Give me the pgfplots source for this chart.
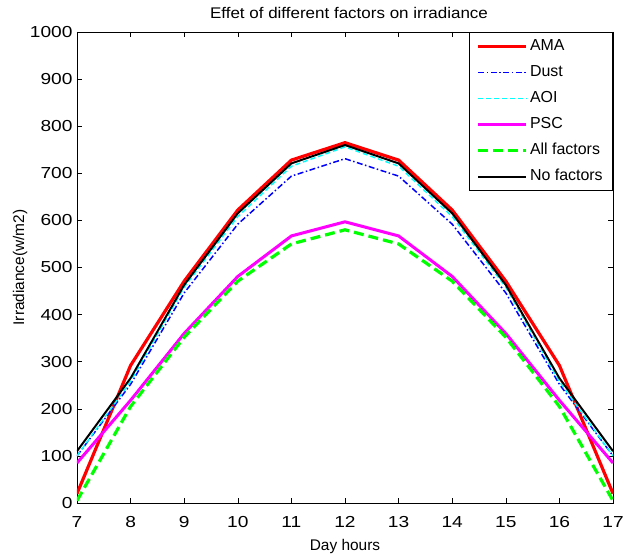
\documentclass[border=0pt]{standalone}
\usepackage{pgfplots}
\pgfplotsset{compat=1.18}
\usepackage{fontspec}
\setmainfont{Liberation Sans}
\newfontfamily\tickfont[FakeStretch=1.2]{Liberation Sans}
\newfontfamily\titlefont[FakeStretch=1.1]{Liberation Sans}
\definecolor{cR}{RGB}{255,0,0}
\definecolor{cB}{RGB}{0,0,255}
\definecolor{cC}{RGB}{0,255,255}
\definecolor{cM}{RGB}{255,0,255}
\definecolor{cG}{RGB}{0,255,0}
\begin{document}
\begin{tikzpicture}
\begin{axis}[
  scale only axis,
  width=536bp, height=471bp,
  xmin=7, xmax=17, ymin=0, ymax=1000,
  xtick={7,8,...,17}, ytick={0,100,...,1000},
  tick align=inside, tick pos=both,
  major tick length=5bp,
  /pgf/number format/assume math mode=true,
  /pgf/number format/1000 sep={},
  ticklabel style={font=\tickfont\fontsize{16}{18}\selectfont},
  xticklabel style={anchor=base, yshift=-24bp},
  yticklabel style={xshift=-1bp},
  every axis title/.style={font=\titlefont\fontsize{15.5}{17}\selectfont, at={(axis description cs:0.5,1.0297)}, anchor=base, xshift=4bp},
  title={Effet of different factors on irradiance},
  xlabel={Day hours}, ylabel={Irradiance(w/m2)},
  xlabel style={font=\fontsize{15.5}{17}\selectfont, at={(axis description cs:0.5,-0.1)}, anchor=base},
  ylabel style={font=\fontsize{15.5}{17}\selectfont, at={(axis description cs:-0.106,0.5)}, anchor=center},
  axis line style={line width=0.6pt},
  every tick/.style={black, line width=0.6pt},
  legend style={at={(1,1)}, anchor=north east, draw=black, line width=0.6pt,
    font=\fontsize{16}{18}\selectfont, row sep=7.5bp, inner xsep=8bp, inner ysep=5bp,
    nodes={inner sep=2bp, text height=11.5bp, text depth=3bp}},
  legend cell align=left,
  legend image code/.code={\draw[#1] (0bp,0bp) -- (48bp,0bp);},
]
\addplot[cR, line width=3.2pt] coordinates {(7,20) (8,292) (9,471) (10,622) (11,728) (12,765) (13,728) (14,622) (15,471) (16,292) (17,20)};
\addlegendentry{AMA}
\addplot[cB, line width=1.5pt, dash pattern=on 6pt off 2.5pt on 1.5pt off 2.5pt] coordinates {(7,100) (8,252) (9,446) (10,592) (11,694) (12,731) (13,694) (14,592) (15,446) (16,252) (17,100)};
\addlegendentry{Dust}
\addplot[cC, line width=1.4pt, dash pattern=on 5pt off 3pt] coordinates {(7,100) (8,258) (9,458) (10,608) (11,715) (12,756) (13,715) (14,608) (15,458) (16,258) (17,100)};
\addlegendentry{AOI}
\addplot[cM, line width=3pt] coordinates {(7,85) (8,218) (9,360) (10,481) (11,567) (12,597) (13,567) (14,481) (15,360) (16,218) (17,85)};
\addlegendentry{PSC}
\addplot[cG, line width=3.2pt, dash pattern=on 10pt off 5pt] coordinates {(7,5) (8,205) (9,352) (10,471) (11,550) (12,580) (13,550) (14,471) (15,352) (16,205) (17,5)};
\addlegendentry{All factors}
\addplot[black, line width=2pt] coordinates {(7,110) (8,265) (9,463) (10,615) (11,721) (12,760) (13,721) (14,615) (15,463) (16,265) (17,110)};
\addlegendentry{No factors}
\end{axis}
\pgfresetboundingbox
\path[use as bounding box] ([shift={(-77bp,-51bp)}]current axis.south west) rectangle ([shift={(18bp,32bp)}]current axis.north east);
\end{tikzpicture}
\end{document}
